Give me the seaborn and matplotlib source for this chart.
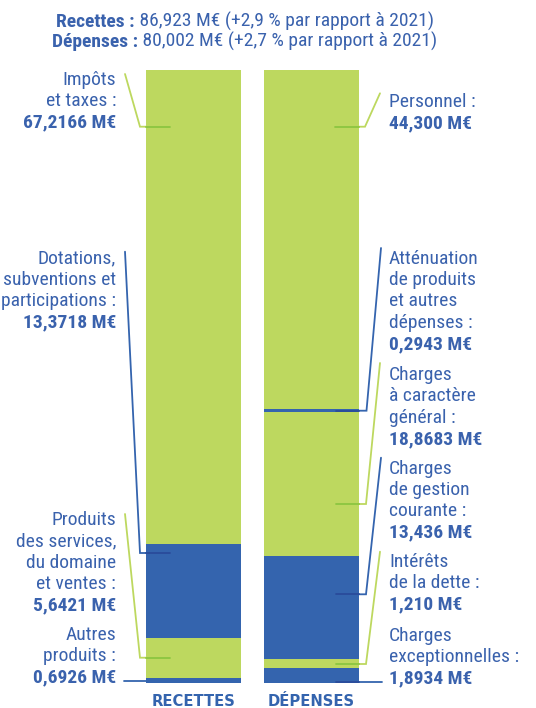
import matplotlib
matplotlib.use("Agg")
import matplotlib.pyplot as plt
from matplotlib import font_manager as fm
import seaborn as sns
import pandas as pd
import numpy as np

# ---------------- data ----------------
budgets = ["RECETTES", "DÉPENSES"]

rec_categories = ["Autres produits", "Produits des services, du domaine et ventes",
                  "Dotations, subventions et participations", "Impôts et taxes"]
rec_values = [0.6926, 5.6421, 13.3718, 67.2166]
rec_value_labels = ["0,6926 M€", "5,6421 M€", "13,3718 M€", "67,2166 M€"]
rec_text = [["Autres", "produits :"],
            ["Produits", "des services,", "du domaine", "et ventes :"],
            ["Dotations,", "subventions et", "participations :"],
            ["Impôts", "et taxes :"]]

dep_categories = ["Charges exceptionnelles", "Intérêts de la dette", "Charges de gestion courante",
                  "Charges à caractère général", "Atténuation de produits et autres dépenses", "Personnel"]
dep_values = [1.8934, 1.210, 13.436, 18.8683, 0.2943, 44.300]
dep_value_labels = ["1,8934 M€", "1,210 M€", "13,436 M€", "18,8683 M€", "0,2943 M€", "44,300 M€"]
dep_text = [["Charges", "exceptionnelles :"],
            ["Intérêts", "de la dette :"],
            ["Charges", "de gestion", "courante :"],
            ["Charges", "à caractère", "général :"],
            ["Atténuation", "de produits", "et autres", "dépenses :"],
            ["Personnel :"]]

title_bold = ["Recettes :", "Dépenses :"]
title_rest = [" 86,923 M€ (+2,9 % par rapport à 2021)", " 80,002 M€ (+2,7 % par rapport à 2021)"]

# ---------------- style ----------------
BLUE = "#3464ae"
GREEN = "#bdd85f"
DBLUE = "#2a4b9b"
DGREEN = "#8cc640"
TXT = "#3a62ad"
rec_colors = [BLUE, GREEN, BLUE, GREEN]
dep_colors = [BLUE, GREEN, BLUE, GREEN, BLUE, GREEN]

sns.set_theme(style="white")
names = {f.name for f in fm.fontManager.ttflist}
FONT = "Roboto"
for cand in ["Roboto Condensed", "Liberation Sans Narrow", "Roboto"]:
    if cand in names:
        FONT = cand
        break
plt.rcParams["font.family"] = [FONT, "DejaVu Sans"]

W, H = 536, 708
fig = plt.figure(figsize=(W / 100, H / 100), dpi=100)
ax = fig.add_axes([0, 0, 1, 1])

# build long table
rows = []
for b, cats, vals, cols in [(budgets[0], rec_categories, rec_values, rec_colors),
                            (budgets[1], dep_categories, dep_values, dep_colors)]:
    tot = sum(vals)
    cum = np.cumsum(vals) / tot * 100
    for c, v, col, top in zip(cats, vals, cols, cum):
        rows.append(dict(budget=b, category=c, value=v, color=col, top=top))
df = pd.DataFrame(rows).sort_values("top", ascending=False)

BAR_W = 95 / 118
for _, r in df.iterrows():
    sns.barplot(x=[r["budget"]], y=[r["top"]], order=budgets, color=r["color"],
                saturation=1, width=BAR_W, linewidth=0, ax=ax)

# pixel <-> data mapping
X0, DX = 193.5, 118.0
Y0, DY = 683.0, 6.13
ax.set_xlim(-X0 / DX, (W - X0) / DX)
ax.set_ylim((Y0 - H) / DY, Y0 / DY)
ax.axis("off")


def X(px):
    return (px - X0) / DX


def Y(py):
    return (Y0 - py) / DY


FS = 14.0
LSP = 21.4


def label(lines, value, xpx, first_center, ha):
    allines = lines + [value]
    for i, ln in enumerate(allines):
        base = first_center + i * LSP + 7
        ax.text(X(xpx), Y(base), ln, ha=ha, va="baseline", fontsize=FS, color=TXT,
                fontweight="bold" if i == len(allines) - 1 else "normal")


# recettes labels (right-aligned)
rec_first = [633, 518, 256.7, 78]
for lines, val, fc in zip(rec_text, rec_value_labels, rec_first):
    label(lines, val, 116, fc, "right")
# dépenses labels (left-aligned)
dep_first = [634, 560, 466.7, 373, 256.7, 100]
for lines, val, fc in zip(dep_text, dep_value_labels, dep_first):
    label(lines, val, 389, fc, "left")

LW = 1.3


def leader(inside, outside, cin, cout):
    ax.plot([X(p[0]) for p in outside], [Y(p[1]) for p in outside], color=cout, lw=LW,
            solid_joinstyle="miter")
    ax.plot([X(p[0]) for p in inside], [Y(p[1]) for p in inside], color=cin, lw=LW)


# recettes
leader([(146, 126.7), (170, 126.7)], [(146, 126.7), (140, 126.7), (125, 74)], DGREEN, GREEN)
leader([(146, 553), (170, 553)], [(146, 553), (140, 553), (125, 251.7)], DBLUE, BLUE)
leader([(146, 657.7), (170, 657.7)], [(146, 657.7), (140, 657.7), (125, 514)], DGREEN, GREEN)
leader([(146, 681), (146, 681)], [(124, 681), (146, 681)], DBLUE, BLUE)
# dépenses
leader([(335, 126.7), (359, 126.7)], [(359, 126.7), (365, 126.7), (380, 93.3)], DGREEN, GREEN)
leader([(336, 410.7), (359, 410.7)], [(359, 410.7), (366.5, 410.7), (381, 248)], DBLUE, BLUE)
leader([(336, 504), (359, 504)], [(359, 504), (366, 504), (380, 363)], DGREEN, GREEN)
leader([(336, 594.3), (359, 594.3)], [(359, 594.3), (366, 594.3), (381, 457.7)], DBLUE, BLUE)
leader([(336, 664), (359, 664)], [(359, 664), (366, 664), (380, 551.7)], DGREEN, GREEN)
leader([(336, 681.7), (359, 681.7)], [(359, 681.7), (382, 681.7)], DBLUE, BLUE)

# category labels under bars
for i, b in enumerate(budgets):
    ax.text(i, Y(705.5), b, ha="center", va="baseline", fontsize=10.6, color=BLUE,
            fontweight="bold", family=["DejaVu Sans"])

# title: bold part + regular part, centered
fig.canvas.draw()
rend = fig.canvas.get_renderer()
for j, (tb, tr) in enumerate(zip(title_bold, title_rest)):
    base = 26.7 + j * 20
    t1 = ax.text(0, 0, tb, fontsize=FS, fontweight="bold", color=TXT, va="baseline")
    t2 = ax.text(0, 0, tr, fontsize=FS, color=TXT, va="baseline")
    w1 = t1.get_window_extent(rend).width
    w2 = t2.get_window_extent(rend).width
    left = 245 - (w1 + w2) / 2
    t1.set_position((X(left), Y(base)))
    t2.set_position((X(left + w1), Y(base)))

fig.savefig("out.png", dpi=100)
